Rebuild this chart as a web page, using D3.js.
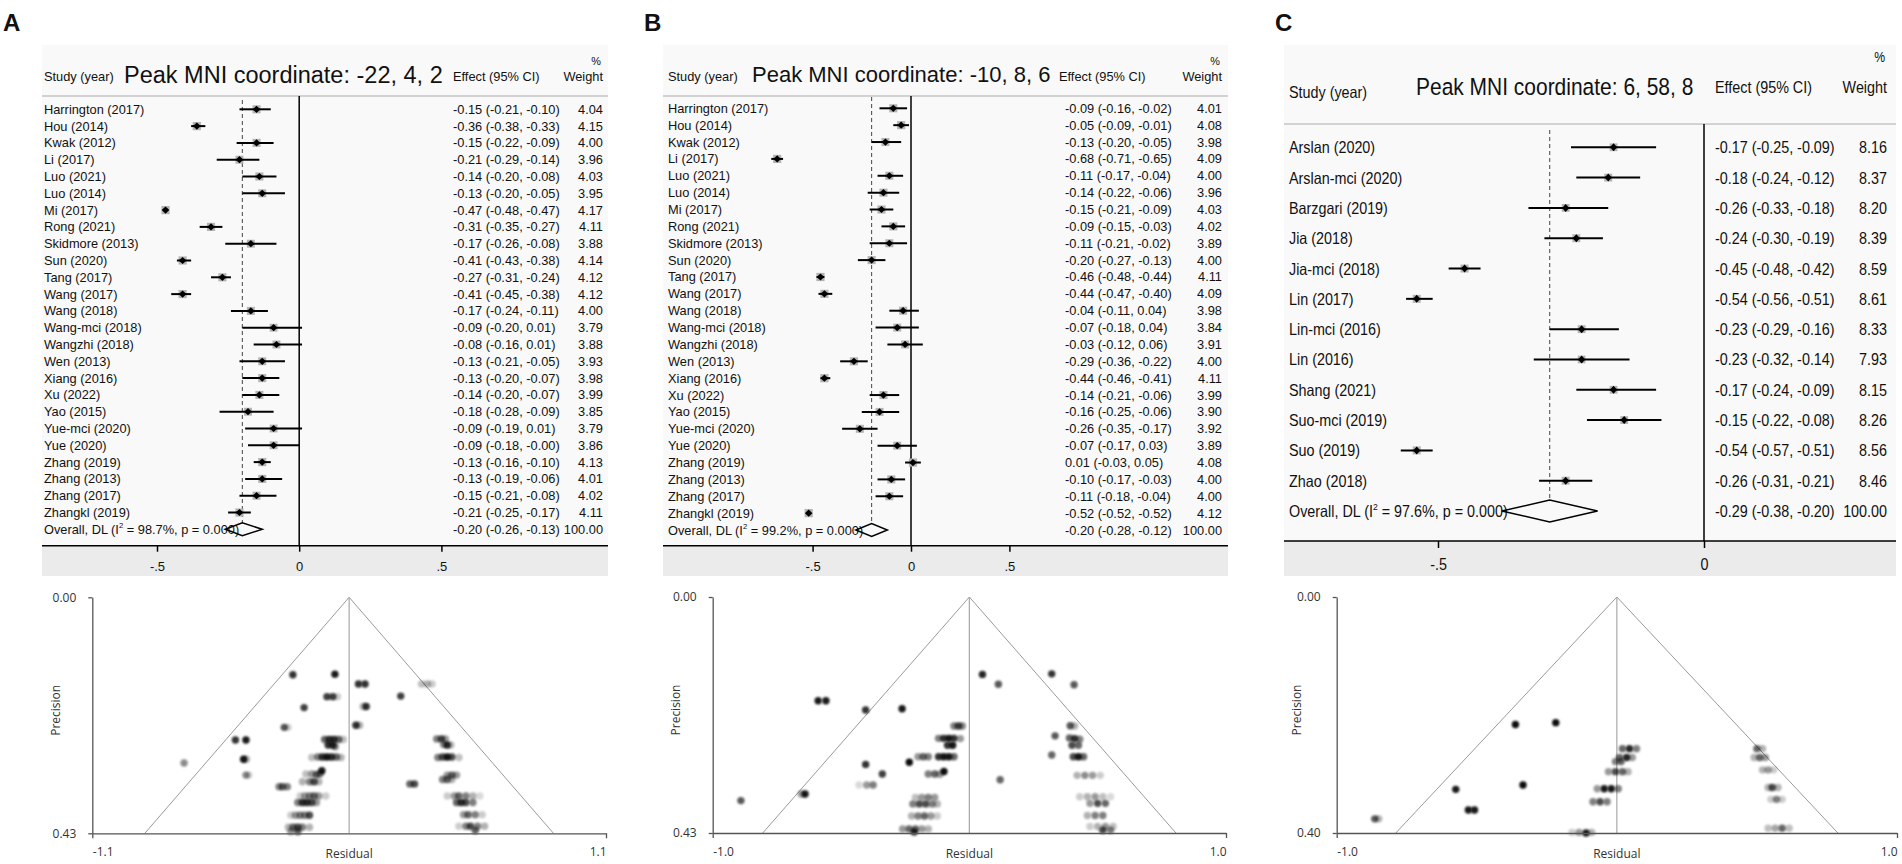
<!DOCTYPE html>
<html>
<head>
<meta charset="utf-8">
<title>Forest and funnel plots</title>
<script src="https://cdn.jsdelivr.net/npm/d3@7.9.0/dist/d3.min.js"></script>
<style>
  body { margin: 0; background: #fff; }
  svg { display: block; }
  text { font-family: "Liberation Sans", Arial, sans-serif; fill: #111; }
  .funnel text { font-family: "Open Sans", sans-serif; fill: #333; }
</style>
</head>
<body>
<svg id="fig" width="1902" height="864"></svg>
<script>
// ---- panel A data ----
const studiesA = ['Harrington (2017)', 'Hou (2014)', 'Kwak (2012)', 'Li (2017)', 'Luo (2021)', 'Luo (2014)', 'Mi (2017)', 'Rong (2021)', 'Skidmore (2013)', 'Sun (2020)', 'Tang (2017)', 'Wang (2017)', 'Wang (2018)', 'Wang-mci (2018)', 'Wangzhi (2018)', 'Wen (2013)', 'Xiang (2016)', 'Xu (2022)', 'Yao (2015)', 'Yue-mci (2020)', 'Yue (2020)', 'Zhang (2019)', 'Zhang (2013)', 'Zhang (2017)', 'Zhangkl (2019)'];
const effectA = [-0.15, -0.36, -0.15, -0.21, -0.14, -0.13, -0.47, -0.31, -0.17, -0.41, -0.27, -0.41, -0.17, -0.09, -0.08, -0.13, -0.13, -0.14, -0.18, -0.09, -0.09, -0.13, -0.13, -0.15, -0.21];
const lowerA = [-0.21, -0.38, -0.22, -0.29, -0.20, -0.20, -0.48, -0.35, -0.26, -0.43, -0.31, -0.45, -0.24, -0.20, -0.16, -0.21, -0.20, -0.20, -0.28, -0.19, -0.18, -0.16, -0.19, -0.21, -0.25];
const upperA = [-0.10, -0.33, -0.09, -0.14, -0.08, -0.05, -0.47, -0.27, -0.08, -0.38, -0.24, -0.38, -0.11, 0.01, 0.01, -0.05, -0.07, -0.07, -0.09, 0.01, -0.00, -0.10, -0.06, -0.08, -0.17];
const weightA = [4.04, 4.15, 4.00, 3.96, 4.03, 3.95, 4.17, 4.11, 3.88, 4.14, 4.12, 4.12, 4.00, 3.79, 3.88, 3.93, 3.98, 3.99, 3.85, 3.79, 3.86, 4.13, 4.01, 4.02, 4.11];
const overallA = [-0.20, -0.26, -0.13]; // effect, lower, upper
const heteroA = ['98.7%', '0.000'];
const ticksA = [-0.5, 0, 0.5];

// ---- panel B data ----
const studiesB = studiesA.slice();
const effectB = [-0.09, -0.05, -0.13, -0.68, -0.11, -0.14, -0.15, -0.09, -0.11, -0.20, -0.46, -0.44, -0.04, -0.07, -0.03, -0.29, -0.44, -0.14, -0.16, -0.26, -0.07, 0.01, -0.10, -0.11, -0.52];
const lowerB = [-0.16, -0.09, -0.20, -0.71, -0.17, -0.22, -0.21, -0.15, -0.21, -0.27, -0.48, -0.47, -0.11, -0.18, -0.12, -0.36, -0.46, -0.21, -0.25, -0.35, -0.17, -0.03, -0.17, -0.18, -0.52];
const upperB = [-0.02, -0.01, -0.05, -0.65, -0.04, -0.06, -0.09, -0.03, -0.02, -0.13, -0.44, -0.40, 0.04, 0.04, 0.06, -0.22, -0.41, -0.06, -0.06, -0.17, 0.03, 0.05, -0.03, -0.04, -0.52];
const weightB = [4.01, 4.08, 3.98, 4.09, 4.00, 3.96, 4.03, 4.02, 3.89, 4.00, 4.11, 4.09, 3.98, 3.84, 3.91, 4.00, 4.11, 3.99, 3.90, 3.92, 3.89, 4.08, 4.00, 4.00, 4.12];
const overallB = [-0.20, -0.28, -0.12];
const heteroB = ['99.2%', '0.000'];
const ticksB = [-0.5, 0, 0.5];

// ---- panel C data ----
const studiesC = ['Arslan (2020)', 'Arslan-mci (2020)', 'Barzgari (2019)', 'Jia (2018)', 'Jia-mci (2018)', 'Lin (2017)', 'Lin-mci (2016)', 'Lin (2016)', 'Shang (2021)', 'Suo-mci (2019)', 'Suo (2019)', 'Zhao (2018)'];
const effectC = [-0.17, -0.18, -0.26, -0.24, -0.45, -0.54, -0.23, -0.23, -0.17, -0.15, -0.54, -0.26];
const lowerC = [-0.25, -0.24, -0.33, -0.30, -0.48, -0.56, -0.29, -0.32, -0.24, -0.22, -0.57, -0.31];
const upperC = [-0.09, -0.12, -0.18, -0.19, -0.42, -0.51, -0.16, -0.14, -0.09, -0.08, -0.51, -0.21];
const weightC = [8.16, 8.37, 8.20, 8.39, 8.59, 8.61, 8.33, 7.93, 8.15, 8.26, 8.56, 8.46];
const overallC = [-0.29, -0.38, -0.20];
const heteroC = ['97.6%', '0.000'];
const ticksC = [-0.5, 0];

// ---- funnel plots: [residual, precision, opacity] ----
const funnelXA = [-1.1, 1.1];
const funnelYA = [0, 0.43];
const funnelLimitA = 0.875;
const funnelA = [
  [-0.241, 0.141, 0.8], [-0.061, 0.140, 0.9], [0.040, 0.158, 0.8], [0.068, 0.158, 0.8],
  [0.310, 0.158, 0.25], [0.335, 0.158, 0.3], [0.355, 0.158, 0.2],
  [-0.095, 0.181, 0.75], [-0.070, 0.181, 0.75], [-0.050, 0.181, 0.2], [0.221, 0.180, 0.75],
  [-0.193, 0.201, 0.75], [0.073, 0.199, 0.8], [0.060, 0.199, 0.3],
  [-0.278, 0.237, 0.65], [-0.262, 0.237, 0.2], [0.029, 0.233, 0.8], [0.045, 0.233, 0.3],
  [-0.487, 0.260, 0.8], [-0.442, 0.260, 0.9],
  [-0.105, 0.259, 0.6], [-0.085, 0.259, 0.8], [-0.065, 0.259, 0.8], [-0.045, 0.259, 0.6], [-0.025, 0.259, 0.25],
  [-0.090, 0.269, 0.8], [-0.070, 0.269, 0.8], [-0.060, 0.272, 0.5],
  [0.375, 0.258, 0.5], [0.395, 0.258, 0.7], [0.412, 0.258, 0.4],
  [0.405, 0.268, 0.5], [0.420, 0.269, 0.8], [0.435, 0.269, 0.3],
  [-0.452, 0.295, 0.9], [-0.440, 0.295, 0.3], [-0.707, 0.302, 0.45],
  [-0.160, 0.292, 0.25], [-0.135, 0.291, 0.5], [-0.115, 0.291, 0.8], [-0.095, 0.291, 0.9], [-0.075, 0.291, 0.8], [-0.055, 0.291, 0.6], [-0.035, 0.292, 0.3],
  [0.380, 0.292, 0.5], [0.400, 0.291, 0.7], [0.420, 0.291, 0.9], [0.440, 0.291, 0.7], [0.470, 0.292, 0.25],
  [-0.442, 0.324, 0.45], [-0.430, 0.324, 0.2], [-0.117, 0.316, 0.9],
  [-0.185, 0.322, 0.25], [-0.160, 0.322, 0.4], [-0.140, 0.323, 0.6], [-0.125, 0.322, 0.5],
  [-0.200, 0.336, 0.3], [-0.170, 0.336, 0.5], [-0.150, 0.336, 0.7], [-0.130, 0.336, 0.3],
  [-0.300, 0.345, 0.5], [-0.285, 0.345, 0.6], [-0.265, 0.345, 0.5],
  [0.420, 0.324, 0.4], [0.440, 0.324, 0.6], [0.460, 0.324, 0.4], [0.400, 0.332, 0.5], [0.420, 0.332, 0.6], [0.440, 0.332, 0.3],
  [0.260, 0.340, 0.6], [0.280, 0.340, 0.7],
  [-0.210, 0.362, 0.2], [-0.190, 0.362, 0.4], [-0.170, 0.362, 0.5], [-0.150, 0.362, 0.6], [-0.130, 0.362, 0.4], [-0.100, 0.362, 0.2],
  [-0.220, 0.374, 0.5], [-0.200, 0.374, 0.8], [-0.180, 0.374, 0.8], [-0.160, 0.374, 0.7], [-0.140, 0.374, 0.4],
  [-0.250, 0.397, 0.2], [-0.230, 0.397, 0.4], [-0.210, 0.397, 0.5], [-0.190, 0.397, 0.5], [-0.170, 0.397, 0.7],
  [-0.260, 0.419, 0.3], [-0.240, 0.419, 0.6], [-0.220, 0.419, 0.7], [-0.200, 0.419, 0.5], [-0.170, 0.419, 0.3],
  [-0.250, 0.427, 0.4], [-0.220, 0.427, 0.6],
  [0.420, 0.362, 0.2], [0.450, 0.362, 0.4], [0.470, 0.362, 0.6], [0.500, 0.362, 0.5], [0.530, 0.362, 0.3], [0.560, 0.362, 0.15],
  [0.460, 0.374, 0.6], [0.480, 0.374, 0.8], [0.500, 0.374, 0.7], [0.530, 0.374, 0.5],
  [0.490, 0.396, 0.4], [0.510, 0.396, 0.6], [0.540, 0.396, 0.5], [0.570, 0.396, 0.2],
  [0.470, 0.417, 0.2], [0.500, 0.417, 0.5], [0.520, 0.417, 0.7], [0.550, 0.417, 0.5], [0.580, 0.417, 0.3], [0.540, 0.425, 0.6]
];

const funnelXB = [-1.0, 1.0];
const funnelYB = [0, 0.43];
const funnelLimitB = 0.805;
const funnelB = [
  [0.051, 0.141, 0.85], [0.113, 0.159, 0.65], [-0.589, 0.189, 0.9], [-0.559, 0.189, 0.9],
  [-0.404, 0.206, 0.8], [-0.262, 0.2035, 0.9],
  [-0.060, 0.235, 0.5], [-0.043, 0.235, 0.7], [-0.028, 0.235, 0.5],
  [-0.120, 0.2575, 0.5], [-0.100, 0.2575, 0.8], [-0.080, 0.2575, 0.9], [-0.060, 0.2575, 0.8], [-0.035, 0.258, 0.4],
  [-0.085, 0.270, 0.8], [-0.065, 0.270, 0.9],
  [-0.200, 0.291, 0.4], [-0.180, 0.291, 0.6], [-0.160, 0.291, 0.5],
  [-0.120, 0.291, 0.8], [-0.100, 0.291, 0.9], [-0.080, 0.291, 0.9], [-0.060, 0.291, 0.6],
  [-0.234, 0.301, 0.95], [-0.404, 0.305, 0.8], [-0.339, 0.3225, 0.75], [-0.099, 0.318, 0.95],
  [-0.160, 0.3225, 0.5], [-0.135, 0.3225, 0.6], [-0.115, 0.323, 0.4],
  [-0.430, 0.3425, 0.15], [-0.400, 0.3425, 0.4], [-0.375, 0.3425, 0.5],
  [-0.640, 0.359, 0.9], [-0.655, 0.359, 0.4], [-0.890, 0.371, 0.65],
  [-0.210, 0.365, 0.25], [-0.185, 0.365, 0.4], [-0.160, 0.365, 0.5], [-0.135, 0.365, 0.4],
  [-0.220, 0.377, 0.5], [-0.195, 0.377, 0.7], [-0.170, 0.377, 0.7], [-0.145, 0.377, 0.5], [-0.125, 0.377, 0.3],
  [-0.225, 0.399, 0.3], [-0.200, 0.399, 0.5], [-0.175, 0.399, 0.6], [-0.150, 0.399, 0.4], [-0.125, 0.399, 0.2],
  [-0.260, 0.4225, 0.4], [-0.235, 0.4225, 0.6], [-0.210, 0.4225, 0.6], [-0.185, 0.4225, 0.4], [-0.160, 0.4225, 0.3], [-0.215, 0.428, 0.8],
  [0.120, 0.333, 0.6], [0.321, 0.140, 0.8], [0.408, 0.160, 0.65], [0.393, 0.2345, 0.65], [0.410, 0.235, 0.3],
  [0.334, 0.253, 0.65], [0.390, 0.257, 0.6], [0.410, 0.258, 0.8], [0.430, 0.259, 0.5],
  [0.400, 0.270, 0.7], [0.425, 0.270, 0.6], [0.321, 0.288, 0.6],
  [0.405, 0.291, 0.7], [0.425, 0.291, 0.9], [0.445, 0.291, 0.6],
  [0.420, 0.325, 0.3], [0.450, 0.325, 0.45], [0.480, 0.325, 0.4], [0.510, 0.325, 0.2],
  [0.430, 0.364, 0.2], [0.460, 0.364, 0.3], [0.490, 0.364, 0.4], [0.520, 0.364, 0.25], [0.550, 0.364, 0.15],
  [0.470, 0.376, 0.4], [0.500, 0.376, 0.7], [0.530, 0.376, 0.6],
  [0.460, 0.398, 0.3], [0.490, 0.398, 0.5], [0.520, 0.398, 0.5],
  [0.470, 0.418, 0.2], [0.500, 0.418, 0.3], [0.530, 0.418, 0.4], [0.560, 0.418, 0.25], [0.520, 0.425, 0.7], [0.550, 0.425, 0.5]
];

const funnelXC = [-1.0, 1.0];
const funnelYC = [0, 0.40];
const funnelLimitC = 0.789;
const funnelC = [
  [-0.362, 0.216, 0.95], [-0.218, 0.213, 0.95], [-0.575, 0.326, 0.9], [-0.335, 0.3187, 0.95],
  [-0.530, 0.361, 0.9], [-0.508, 0.361, 0.9], [-0.864, 0.376, 0.65], [-0.850, 0.376, 0.3],
  [0.020, 0.257, 0.6], [0.045, 0.257, 0.85], [0.070, 0.257, 0.5],
  [0.010, 0.272, 0.6], [0.035, 0.272, 0.85], [0.055, 0.272, 0.4],
  [-0.005, 0.279, 0.5], [0.015, 0.279, 0.6],
  [-0.030, 0.296, 0.4], [-0.005, 0.296, 0.7], [0.020, 0.296, 0.6], [0.040, 0.296, 0.3],
  [-0.070, 0.325, 0.4], [-0.045, 0.325, 0.9], [-0.020, 0.325, 0.9], [0.005, 0.325, 0.5],
  [-0.085, 0.347, 0.5], [-0.060, 0.347, 0.7], [-0.035, 0.347, 0.5],
  [-0.160, 0.399, 0.2], [-0.135, 0.399, 0.4], [-0.110, 0.400, 0.9], [-0.090, 0.399, 0.3],
  [0.500, 0.257, 0.6], [0.520, 0.257, 0.3],
  [0.490, 0.272, 0.3], [0.510, 0.272, 0.6], [0.530, 0.272, 0.4],
  [0.520, 0.293, 0.3], [0.540, 0.293, 0.4], [0.560, 0.293, 0.2],
  [0.540, 0.323, 0.3], [0.555, 0.323, 0.7], [0.575, 0.323, 0.3],
  [0.550, 0.343, 0.2], [0.570, 0.343, 0.5], [0.590, 0.343, 0.2],
  [0.540, 0.392, 0.25], [0.565, 0.392, 0.35], [0.590, 0.392, 0.6], [0.615, 0.392, 0.25]
];

// ---- layout ----
const forestLayoutA = {
  left: 42, right: 608, top: 45, header: 96, bottom: 545.7, band: 576,
  xRange: [157, 441.4], row0: 109.3, rowN: 529.3,
  fs: 12.8, sx: 1, textDy: 4.5, studyX: 44, studyHeadY: 81, effectX: 453, effectHeadX: 453,
  weightX: 603, headY: 81, pctY: 65, titleX: 124, titleY: 83, titleFs: 23.5, titleSx: 1,
  tickLen: 6, tickFs: 13, halfDiamond: 6.5, dashTop: 100, sqMax: 8.2, dw: 3.8, dh: 3.6
};
const forestLayoutB = Object.assign({}, forestLayoutA, {
  left: 663, right: 1228, xRange: [812.6, 1009.4], row0: 108.3, rowN: 530,
  studyX: 668, effectX: 1065, effectHeadX: 1059, weightX: 1222, titleX: 752, titleY: 82, titleFs: 22,
  dashTop: 97
});
const forestLayoutC = {
  left: 1284, right: 1896, top: 45, header: 124, bottom: 541, band: 576,
  xRange: [1438, 1970], row0: 147.3, rowN: 511,
  fs: 16.5, sx: 0.87, textDy: 6, studyX: 1289, studyHeadY: 98, effectX: 1715, effectHeadX: 1715,
  weightX: 1887, headY: 93, pctY: 62, titleX: 1416, titleY: 95, titleFs: 23.3, titleSx: 0.9,
  tickLen: 7, tickFs: 16.5, halfDiamond: 11, dashTop: 130, sqMax: 8, dw: 3.6, dh: 4
};
const funnelLayoutA = { xRange: [92.3, 606], yRange: [597.3, 833.3], precX: 56 };
const funnelLayoutB = { xRange: [712.7, 1226], yRange: [597, 833], precX: 676 };
const funnelLayoutC = { xRange: [1336.7, 1897], yRange: [597, 833], precX: 1297 };

const svg = d3.select('#fig');

svg.append('defs').append('filter')
  .attr('id', 'soft')
  .attr('x', -1).attr('y', -1).attr('width', 3).attr('height', 3)
  .append('feGaussianBlur').attr('stdDeviation', 1);

function fmtNum(v) {
  return (v < 0 || Object.is(v, -0) ? '-' : '') + Math.abs(v).toFixed(2);
}

function fmtTick(v) {
  if (v === 0) return '0';
  return (v < 0 ? '-' : '') + String(Math.abs(v)).replace(/^0/, '');
}

function label(g, x, y, str, size, sx, anchor) {
  return g.append('text')
    .attr('transform', `translate(${x},${y}) scale(${sx},1)`)
    .attr('text-anchor', anchor || 'start')
    .attr('font-size', size)
    .text(str);
}

function diamond(cx, cy, w, h) {
  return `M${cx - w},${cy}L${cx},${cy - h}L${cx + w},${cy}L${cx},${cy + h}Z`;
}

function drawForest(L, d) {
  let g = svg.append('g');
  let n = d.studies.length;
  let x = d3.scaleLinear().domain([-0.5, 0.5]).range(L.xRange);
  let y = d3.scaleLinear().domain([0, n]).range([L.row0, L.rowN]);
  let size = d3.scaleSqrt().domain([0, d3.max(d.weight)]).range([0, L.sqMax]);

  g.append('rect').attr('x', L.left).attr('y', L.top)
    .attr('width', L.right - L.left).attr('height', L.bottom - L.top).attr('fill', '#f9f9f9');
  g.append('rect').attr('x', L.left).attr('y', L.bottom)
    .attr('width', L.right - L.left).attr('height', L.band - L.bottom).attr('fill', '#ebebeb');
  g.append('line').attr('x1', L.left).attr('x2', L.right).attr('y1', L.header).attr('y2', L.header)
    .attr('stroke', '#c4c4c4').attr('stroke-width', 1.5);

  label(g, L.studyX, L.studyHeadY, 'Study (year)', L.fs, L.sx);
  label(g, L.titleX, L.titleY, d.title, L.titleFs, L.titleSx);
  label(g, L.effectHeadX, L.headY, 'Effect (95% CI)', L.fs, L.sx);
  label(g, L.weightX, L.headY, 'Weight', L.fs, L.sx, 'end');
  label(g, L.weightX - 2, L.pctY, '%', L.fs * 0.85, L.sx, 'end');

  g.append('line').attr('x1', x(0)).attr('x2', x(0)).attr('y1', L.header).attr('y2', L.bottom)
    .attr('stroke', '#000').attr('stroke-width', 1.5);
  g.append('line').attr('x1', x(d.overall[0])).attr('x2', x(d.overall[0]))
    .attr('y1', L.dashTop).attr('y2', y(n) - L.halfDiamond)
    .attr('stroke', '#444').attr('stroke-dasharray', '4,3');

  d.studies.forEach((s, i) => {
    let cy = y(i);
    let sq = size(d.weight[i]);
    g.append('rect').attr('x', x(d.effect[i]) - sq / 2).attr('y', cy - sq / 2)
      .attr('width', sq).attr('height', sq).attr('fill', '#b3b3b3');
    g.append('line').attr('x1', x(d.lower[i])).attr('x2', x(d.upper[i])).attr('y1', cy).attr('y2', cy)
      .attr('stroke', '#000').attr('stroke-width', 2);
    g.append('path').attr('d', diamond(x(d.effect[i]), cy, L.dw, L.dh)).attr('fill', '#000');

    label(g, L.studyX, cy + L.textDy, s, L.fs, L.sx);
    label(g, L.effectX, cy + L.textDy,
      `${fmtNum(d.effect[i])} (${fmtNum(d.lower[i])}, ${fmtNum(d.upper[i])})`, L.fs, L.sx);
    label(g, L.weightX, cy + L.textDy, d.weight[i].toFixed(2), L.fs, L.sx, 'end');
  });

  // overall row
  let oy = y(n);
  let t = label(g, L.studyX, oy + L.textDy, '', L.fs, L.sx);
  t.append('tspan').text('Overall, DL (I');
  t.append('tspan').attr('font-size', L.fs * 0.6).attr('dy', -L.fs * 0.45).text('2');
  t.append('tspan').attr('dy', L.fs * 0.45).text(` = ${d.hetero[0]}, p = ${d.hetero[1]})`);
  label(g, L.effectX, oy + L.textDy,
    `${fmtNum(d.overall[0])} (${fmtNum(d.overall[1])}, ${fmtNum(d.overall[2])})`, L.fs, L.sx);
  label(g, L.weightX, oy + L.textDy, '100.00', L.fs, L.sx, 'end');

  let x0 = x(d.overall[1]), x1 = x(d.overall[2]), xc = x(d.overall[0]);
  g.append('path')
    .attr('d', `M${x0},${oy}L${xc},${oy - L.halfDiamond}L${x1},${oy}L${xc},${oy + L.halfDiamond}Z`)
    .attr('fill', 'none').attr('stroke', '#000').attr('stroke-width', 1.5);

  // axis
  g.append('line').attr('x1', L.left).attr('x2', L.right).attr('y1', L.bottom).attr('y2', L.bottom)
    .attr('stroke', '#000').attr('stroke-width', 1.5);
  let axis = g.append('g').attr('transform', `translate(0,${L.bottom})`)
    .call(d3.axisBottom(x).tickValues(d.ticks).tickSize(L.tickLen).tickPadding(10).tickFormat(fmtTick));
  axis.select('.domain').remove();
  axis.selectAll('.tick line').attr('stroke', '#000').attr('stroke-width', 1.5);
  axis.selectAll('.tick text').attr('font-size', L.tickFs).attr('transform', `scale(${L.sx},1)`);
}

function drawFunnel(L, pts, xDomain, yDomain, limit) {
  let g = svg.append('g').attr('class', 'funnel');
  let x = d3.scaleLinear().domain(xDomain).range(L.xRange);
  let y = d3.scaleLinear().domain(yDomain).range(L.yRange);
  let yMax = yDomain[1];

  let line = d3.line().x((p) => x(p[0])).y((p) => y(p[1]));
  g.append('path').attr('d', line([[-limit, yMax], [0, 0], [limit, yMax]]))
    .attr('fill', 'none').attr('stroke', '#9a9a9a').attr('stroke-width', 1);
  g.append('path').attr('d', line([[0, 0], [0, yMax]]))
    .attr('fill', 'none').attr('stroke', '#a8a8a8').attr('stroke-width', 1.2);

  g.append('g').selectAll('circle').data(pts).join('circle')
    .attr('cx', (p) => x(p[0]))
    .attr('cy', (p) => y(p[1]))
    .attr('r', 3.7)
    .attr('fill', '#000')
    .attr('fill-opacity', (p) => p[2])
    .attr('filter', 'url(#soft)');

  // y axis
  let yAxis = g.append('g').attr('transform', `translate(${L.xRange[0]},0)`)
    .call(d3.axisLeft(y).tickValues(yDomain).tickSize(4).tickSizeOuter(0).tickPadding(12)
      .tickFormat((v) => v.toFixed(2)));
  yAxis.select('.domain').attr('stroke', '#555').attr('stroke-width', 1.3);
  yAxis.selectAll('.tick line').attr('stroke', '#555').attr('stroke-width', 1.3);
  yAxis.selectAll('.tick text').attr('font-size', 12).attr('fill', '#333');

  // x axis
  let xAxis = g.append('g').attr('transform', `translate(0,${L.yRange[1]})`)
    .call(d3.axisBottom(x).tickValues(xDomain).tickSize(5).tickSizeOuter(0).tickPadding(9)
      .tickFormat((v) => v.toFixed(1)));
  xAxis.select('.domain').attr('stroke', '#555').attr('stroke-width', 1.3);
  xAxis.selectAll('.tick line').attr('stroke', '#555').attr('stroke-width', 1.3);
  xAxis.selectAll('.tick text').attr('font-size', 12).attr('fill', '#333')
    .attr('text-anchor', (v, i) => (i === 0 ? 'start' : 'end'));

  g.append('text').attr('x', x(0)).attr('y', L.yRange[1] + 25)
    .attr('text-anchor', 'middle').attr('font-size', 12).text('Residual');
  g.append('text')
    .attr('transform', `translate(${L.precX + 4},${(L.yRange[0] + L.yRange[1]) / 2 - 5}) rotate(-90)`)
    .attr('text-anchor', 'middle').attr('font-size', 12).text('Precision');
}

drawForest(forestLayoutA, {
  title: 'Peak MNI coordinate: -22, 4, 2', studies: studiesA, effect: effectA, lower: lowerA,
  upper: upperA, weight: weightA, overall: overallA, hetero: heteroA, ticks: ticksA
});
drawForest(forestLayoutB, {
  title: 'Peak MNI coordinate: -10, 8, 6', studies: studiesB, effect: effectB, lower: lowerB,
  upper: upperB, weight: weightB, overall: overallB, hetero: heteroB, ticks: ticksB
});
drawForest(forestLayoutC, {
  title: 'Peak MNI coordinate: 6, 58, 8', studies: studiesC, effect: effectC, lower: lowerC,
  upper: upperC, weight: weightC, overall: overallC, hetero: heteroC, ticks: ticksC
});

drawFunnel(funnelLayoutA, funnelA, funnelXA, funnelYA, funnelLimitA);
drawFunnel(funnelLayoutB, funnelB, funnelXB, funnelYB, funnelLimitB);
drawFunnel(funnelLayoutC, funnelC, funnelXC, funnelYC, funnelLimitC);

// panel letters
[['A', 3], ['B', 644], ['C', 1275]].forEach(([letter, px]) => {
  svg.append('text').attr('x', px).attr('y', 31)
    .attr('font-size', 24).attr('font-weight', 'bold').attr('fill', '#000').text(letter);
});
</script>
</body>
</html>
